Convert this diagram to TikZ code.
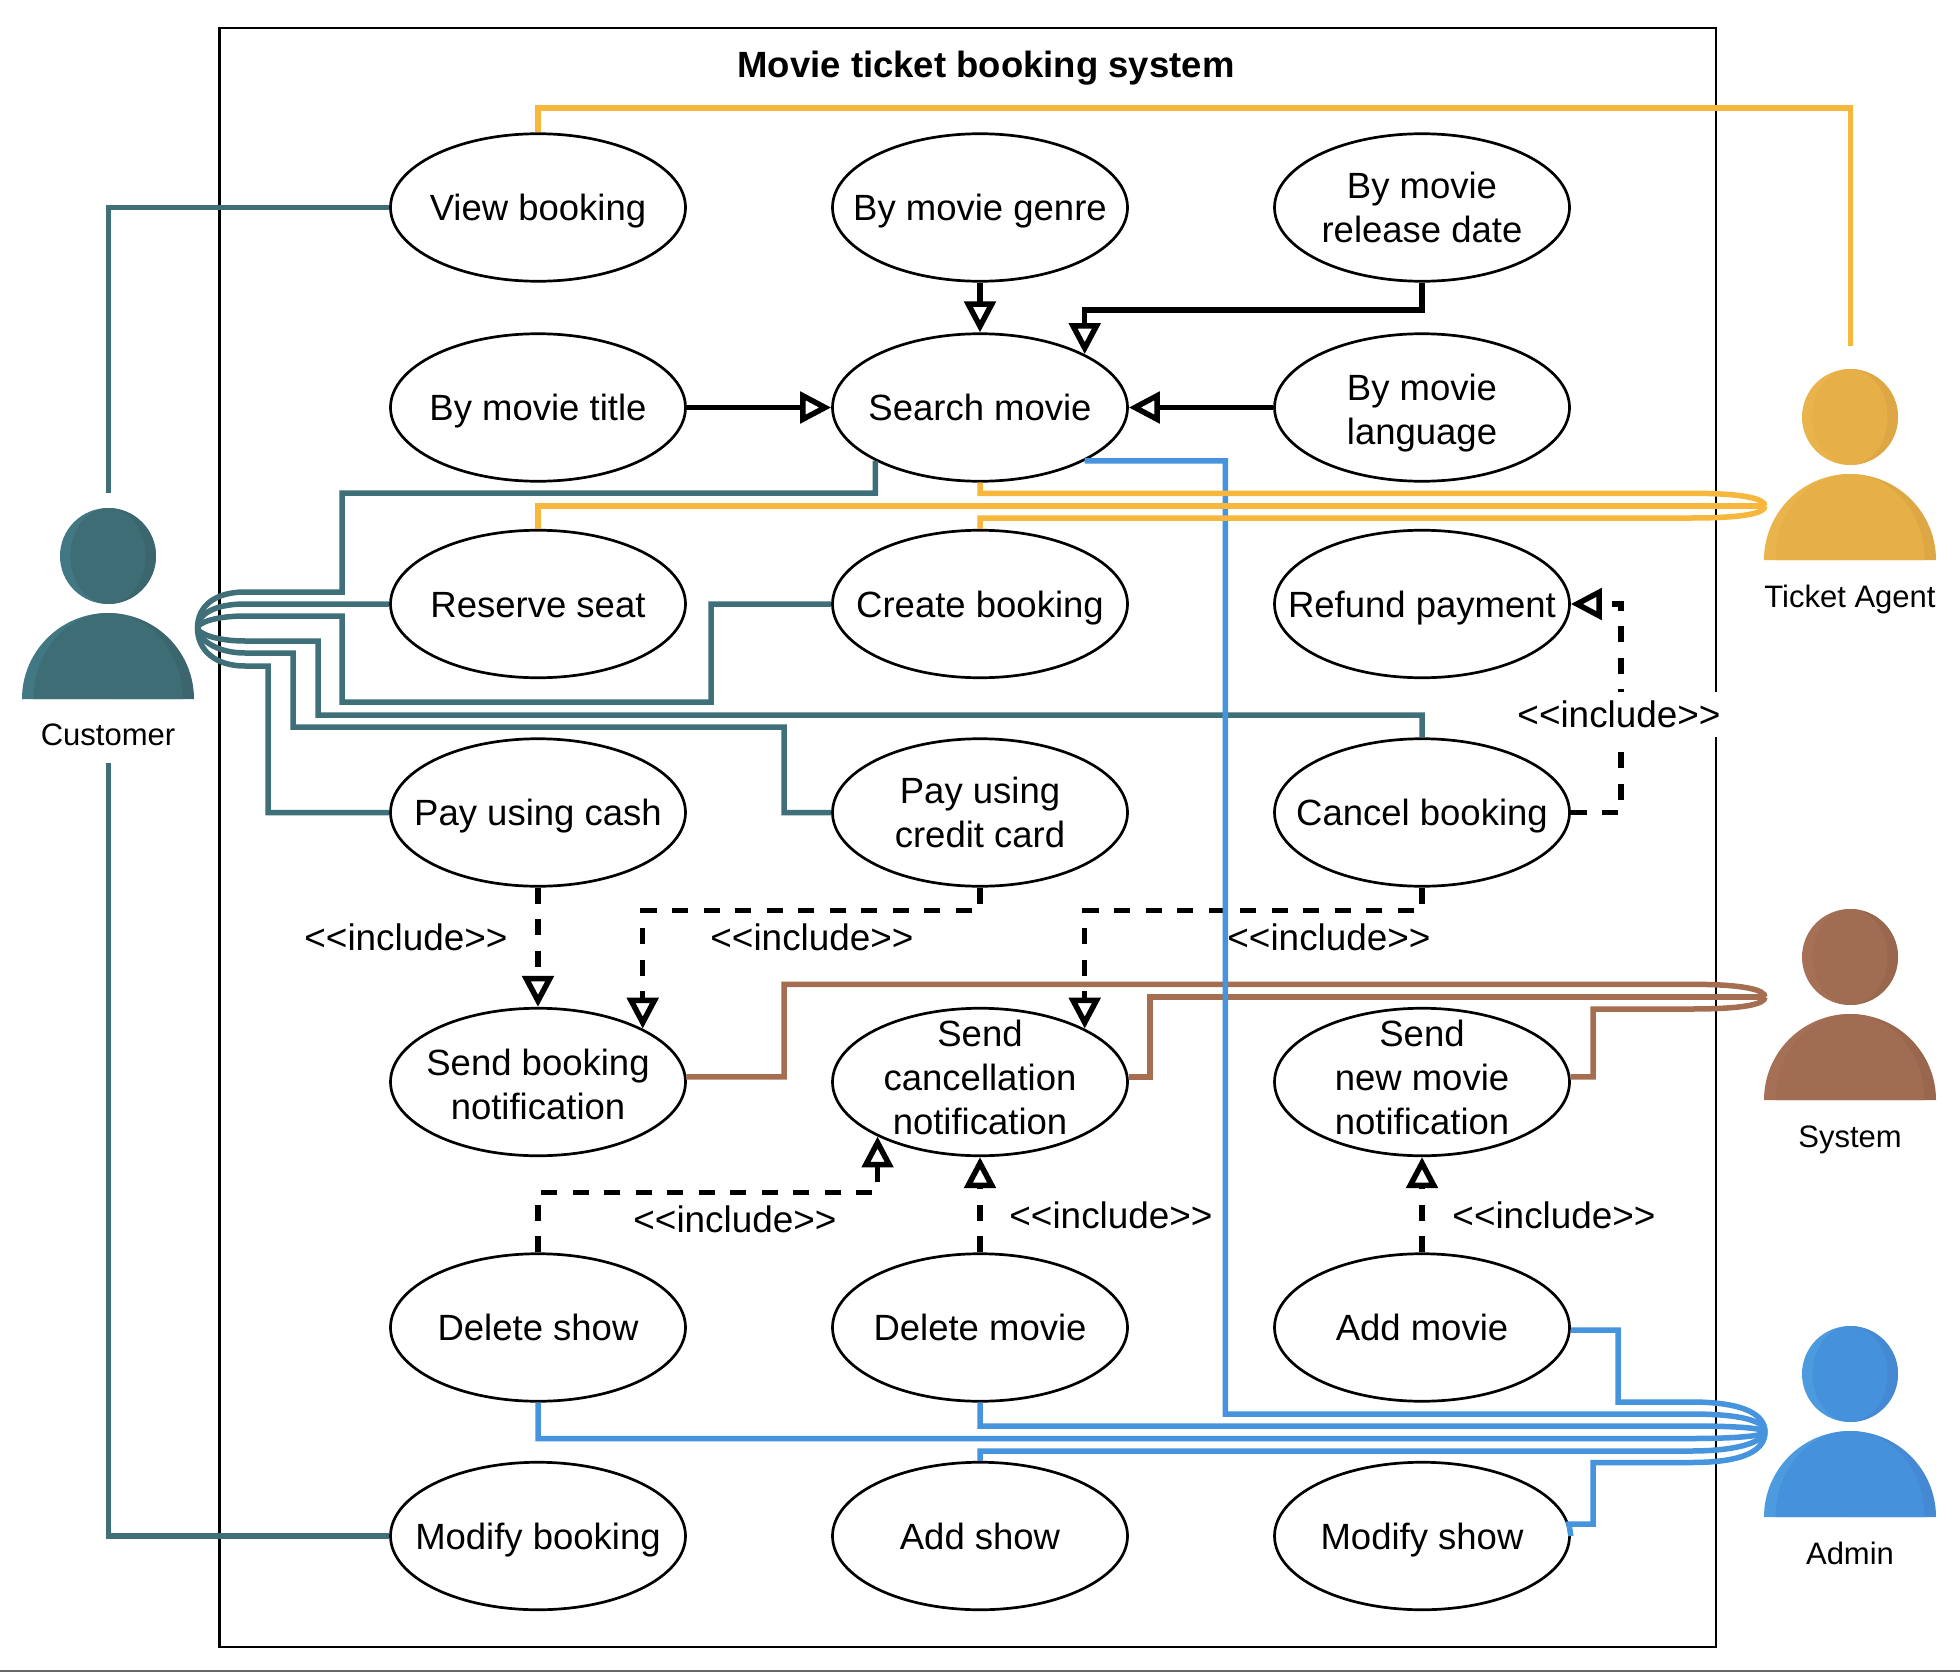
\documentclass[tikz,border=0pt]{standalone}
\usepackage{fontspec}
\setmainfont{Liberation Sans}
\usetikzlibrary{arrows.meta,shapes.geometric}
\definecolor{custline}{HTML}{3F7079}
\definecolor{custbase}{HTML}{3E6D76}
\definecolor{custlight}{HTML}{427883}
\definecolor{custdark}{HTML}{3B666E}
\definecolor{tickline}{HTML}{F6B73C}
\definecolor{tickbase}{HTML}{E6AF48}
\definecolor{ticklight}{HTML}{E9B44C}
\definecolor{tickdark}{HTML}{DDA745}
\definecolor{sysline}{HTML}{A66E50}
\definecolor{sysbase}{HTML}{A16D52}
\definecolor{syslight}{HTML}{A57055}
\definecolor{sysdark}{HTML}{99674D}
\definecolor{admline}{HTML}{4693DE}
\definecolor{admbase}{HTML}{4691DB}
\definecolor{admlight}{HTML}{4C9BDF}
\definecolor{admdark}{HTML}{4589D2}
\tikzset{
  uc/.style={draw=black,line width=2.7pt,ellipse,inner sep=0pt,minimum width=295pt,minimum height=147.5pt},
  uctext/.style={inner sep=0pt,align=center,text height=26pt,text depth=0pt,font=\fontsize{36.5}{44}\selectfont},
  lab/.style={inner sep=0pt,font=\fontsize{36.9}{44}\selectfont},
  actlab/.style={inner sep=0pt,text height=22pt,text depth=0pt,font=\fontsize{31}{38}\selectfont},
  link/.style={line width=5.5pt,miter limit=10},
  custl/.style={link,draw=custline},
  tickl/.style={link,draw=tickline},
  sysl/.style={link,draw=sysline},
  admn/.style={link,draw=admline},
  tritip/.tip={Triangle[length=31pt,width=31pt,fill=white,sep=0pt]},
  gener/.style={line width=5.5pt,draw=black,-{tritip}},
  incl/.style={gener,dash pattern=on 16pt off 15.5pt},
}
% [#1 text shift] #2 name, #3 x, #4 y, #5 text
\newcommand{\ucn}[5][0]{
  \node[uc] (#2) at (#3,#4) {};
  \node[uctext] (#2txt) at (#3,#4+#1) {#5};
}
% #1 centre x, #2 head centre y, #3 base, #4 light, #5 dark, #6 name
\newcommand{\actorfig}[6]{
  \fill[#4] (#1,#2) circle[radius=48pt];
  \fill[#5] (#1,#2-48) arc[start angle=90,end angle=-90,radius=48pt] -- cycle;
  \fill[#3] (#1,#2) ellipse[x radius=37.5pt,y radius=48pt];
  \fill[#4] (#1-86,#2+143) arc[start angle=180,end angle=90,radius=86pt] -- (#1,#2+143) -- cycle;
  \fill[#5] (#1+86,#2+143) arc[start angle=0,end angle=90,radius=86pt] -- (#1,#2+143) -- cycle;
  \fill[#3] (#1-74.5,#2+143) arc[start angle=180,end angle=0,x radius=74.5pt,y radius=86pt] -- cycle;
  \node[circle,inner sep=0pt,minimum size=96pt] (#6) at (#1,#2) {};
}
\begin{document}
\begin{tikzpicture}[x=1pt,y=-1pt]
\useasboundingbox (0,0) rectangle (1960,1672);
\fill[white] (0,0) rectangle (1960,1672);
\draw[color=black!60,line width=1.6pt] (0,1671) -- (1960,1671);
\draw[black,line width=2.7pt] (219.5,28) rectangle (1716,1647);
\node[inner sep=0pt,text height=26pt,text depth=0pt,font=\fontsize{36.5}{44}\selectfont\bfseries] (title) at (986,65) {Movie ticket booking system};

% use cases
\ucn{view}{538}{207.5}{View booking}
\ucn{genre}{980}{207.5}{By movie genre}
\ucn[22]{release}{1422}{207.5}{By movie\\release date}
\ucn{mtitle}{538}{407.5}{By movie title}
\ucn{search}{980}{407.5}{Search movie}
\ucn[24]{lang}{1422}{407.5}{By movie\\language}
\ucn{reserve}{538}{604}{Reserve seat}
\ucn{create}{980}{604}{Create booking}
\ucn{refund}{1422}{604}{Refund payment}
\ucn{cash}{538}{812.5}{Pay using cash}
\ucn[22]{card}{980}{812.5}{Pay using\\credit card}
\ucn{cancel}{1422}{812.5}{Cancel booking}
\ucn[24]{bnotif}{538}{1082}{Send booking\\notification}
\ucn[39.5]{cnotif}{980}{1082}{Send\\cancellation\\notification}
\ucn[39.5]{mnotif}{1422}{1082}{Send\\new movie\\notification}
\ucn{delshow}{538}{1327.5}{Delete show}
\ucn{delmovie}{980}{1327.5}{Delete movie}
\ucn{addmovie}{1422}{1327.5}{Add movie}
\ucn{modbook}{538}{1536}{Modify booking}
\ucn{addshow}{980}{1536}{Add show}
\ucn{modshow}{1422}{1536}{Modify show}

% actors
\actorfig{108}{556}{custbase}{custlight}{custdark}{custa}
\actorfig{1850}{417}{tickbase}{ticklight}{tickdark}{ticka}
\actorfig{1850}{957}{sysbase}{syslight}{sysdark}{sysa}
\actorfig{1850}{1374}{admbase}{admlight}{admdark}{adma}
\node[actlab] (custlab) at (108,734) {Customer};
\node[actlab] (ticklab) at (1850,596) {Ticket Agent};
\node[actlab] (syslab) at (1850,1136) {System};
\node[actlab] (admlab) at (1850,1553) {Admin};

\coordinate (custtip) at (197.5,628);
\coordinate (custup) at (108.5,493);
\coordinate (custdown) at (108.5,763);
\coordinate (ticktip) at (1765,506);
\coordinate (tickup) at (1850.5,346);
\coordinate (systip) at (1765,997);
\coordinate (admtip) at (1765,1432);

% customer connectors
\draw[custl] (view.west) -| (custup);
\draw[custl] (modbook.west) -| (custdown);
\draw[custl] (search.207) |- (342,493) -- (342,592) -- (245,592) .. controls (215,592) and (197.5,606) .. (custtip);
\draw[custl] (reserve.west) -- (245,604) .. controls (215,604) and (197.5,614) .. (custtip);
\draw[custl] (create.west) -- (711,604) -- (711,702) -- (342,702) -- (342,616) -- (245,616) .. controls (215,616) and (197.5,623) .. (custtip);
\draw[custl] (cancel.north) -- (1422,715) -- (318,715) -- (318,641) -- (245,641) .. controls (215,641) and (197.5,633) .. (custtip);
\draw[custl] (card.west) -- (784,812.5) -- (784,727) -- (293,727) -- (293,653) -- (245,653) .. controls (215,653) and (197.5,638) .. (custtip);
\draw[custl] (cash.west) -- (268,812.5) -- (268,666) -- (245,666) .. controls (215,666) and (197.5,650) .. (custtip);

% system connectors
\draw[sysl] (bnotif.2) -| (784,984.3) -- (1691,984.3) .. controls (1745,984.3) and (1765,990) .. (systip);
\draw[sysl] (cnotif.2) -| (1150,997) -- (1691,997) -- (systip);
\draw[sysl] (mnotif.2) -| (1593,1009) -- (1691,1009) .. controls (1745,1009) and (1765,1004) .. (systip);

% generalisation
\draw[gener] (genre.south) -- (search.north);
\draw[gener] (release.south) |- (1200,310) -| (search.27);
\draw[gener] (lang.west) -- (search.east);
\draw[gener] (mtitle.east) -- (search.west);

% include
\draw[incl] (cancel.east) -- (1621,812.5) -- (1621,604) -- (refund.east);
\draw[incl] (cash.south) -- (bnotif.north);
\draw[incl] (card.south) |- (800,910.7) -| (bnotif.27);
\draw[incl] (cancel.south) |- (1200,910.7) -| (cnotif.27);
\draw[incl] (delshow.north) |- (700,1192.7) -| (cnotif.208);
\draw[incl] (delmovie.north) -- (cnotif.south);
\draw[incl] (addmovie.north) -- (mnotif.south);

% admin connectors
\draw[admn] (search.-27) -| (1225.3,1414) -- (1691,1414) .. controls (1745,1414) and (1765,1422) .. (admtip);
\draw[admn] (addmovie.-1) -| (1618,1402) -- (1691,1402) .. controls (1745,1402) and (1765,1415) .. (admtip);
\draw[admn] (delmovie.south) |- (1400,1426) -- (1691,1426) .. controls (1745,1426) and (1765,1429) .. (admtip);
\draw[admn] (delshow.south) |- (1400,1438.5) -- (1691,1438.5) .. controls (1745,1438.5) and (1765,1435) .. (admtip);
\draw[admn] (addshow.north) |- (1400,1451) -- (1691,1451) .. controls (1745,1451) and (1765,1439) .. (admtip);
\draw[admn] (modshow.east) -- (1569,1524) -- (1593,1524) -- (1593,1462.5) -- (1691,1462.5) .. controls (1745,1462.5) and (1765,1450) .. (admtip);

% ticket agent connectors
\draw[tickl] (view.north) |- (1000,108) -| (tickup);
\draw[tickl] (search.south) |- (1400,493.3) -- (1691,493.3) .. controls (1745,493.3) and (1765,499) .. (ticktip);
\draw[tickl] (reserve.north) |- (1400,506) -- (ticktip);
\draw[tickl] (create.north) |- (1400,518) -- (1691,518) .. controls (1745,518) and (1765,513) .. (ticktip);

% include labels
\node[lab] (inc1) at (406,937) {<{}<include>{}>};
\node[lab] (inc2) at (812,937) {<{}<include>{}>};
\node[lab] (inc3) at (1329,937) {<{}<include>{}>};
\node[lab] (inc4) at (735,1219) {<{}<include>{}>};
\node[lab] (inc5) at (1111,1215) {<{}<include>{}>};
\node[lab] (inc6) at (1554,1215) {<{}<include>{}>};
\node[lab,fill=white,minimum height=45pt] (inc7) at (1619,714.5) {<{}<include>{}>};
\end{tikzpicture}
\end{document}
